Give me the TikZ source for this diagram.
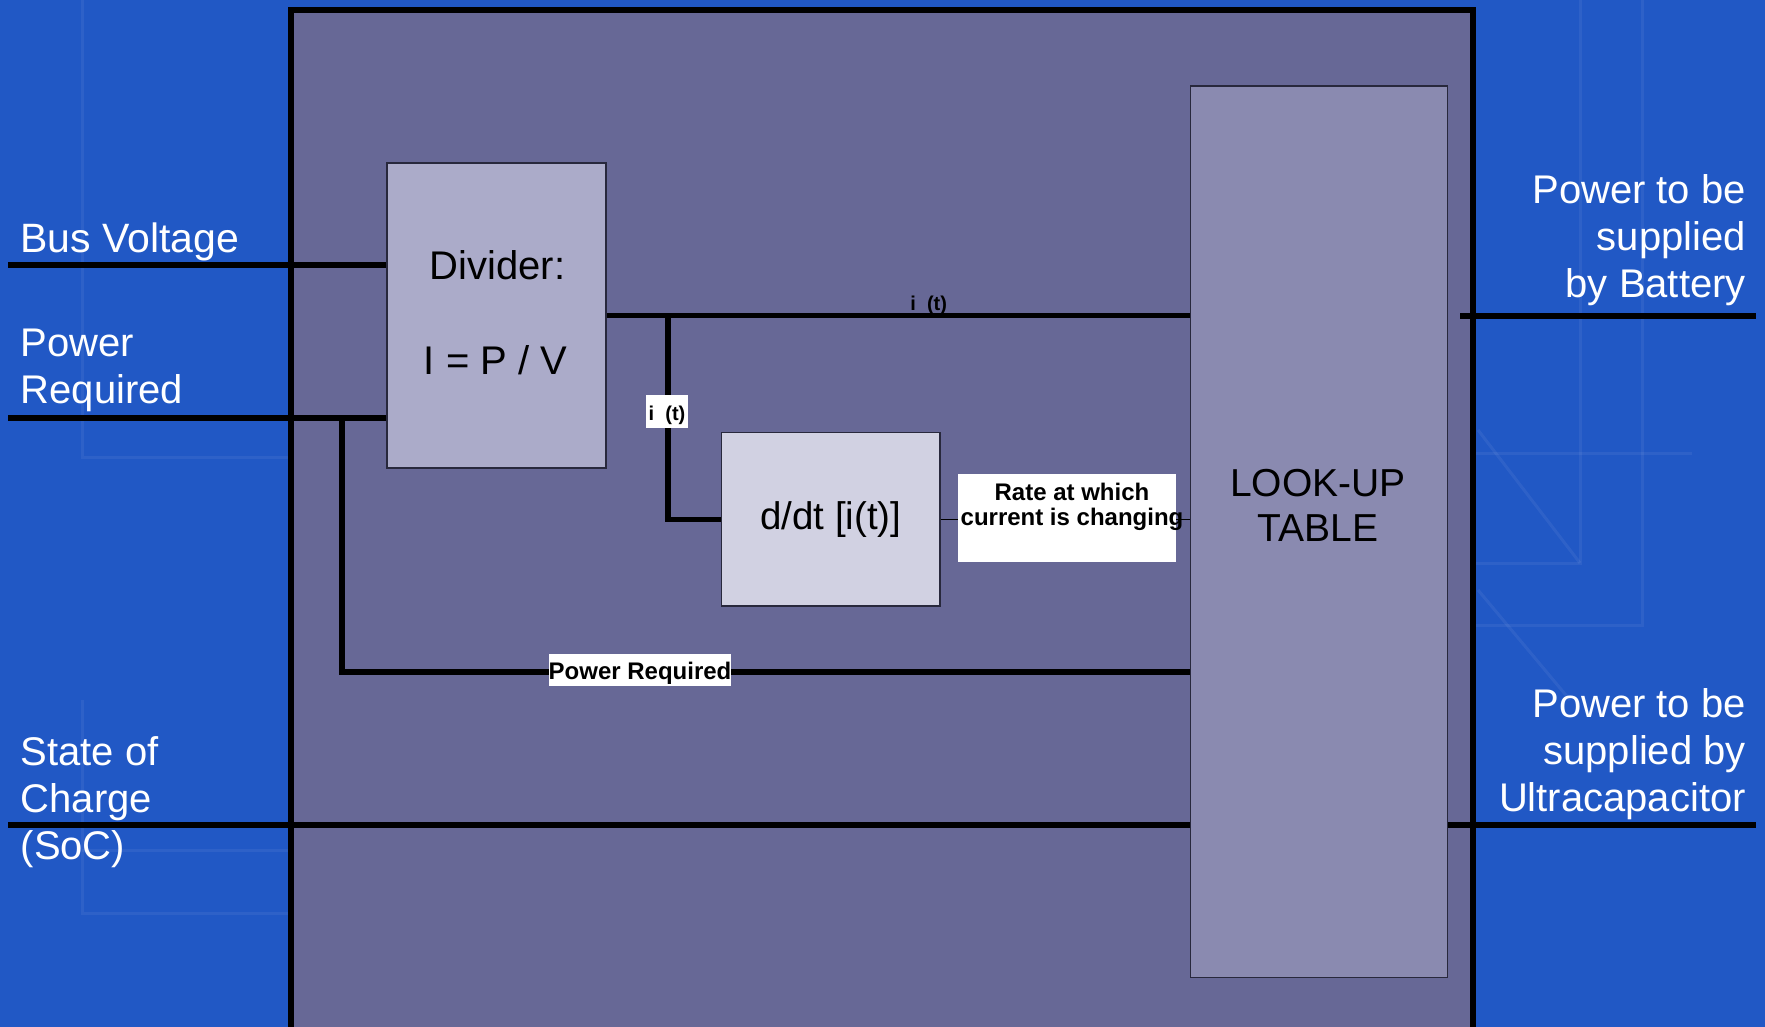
\documentclass[tikz,border=0pt]{standalone}
\usepackage{fontspec}
\setmainfont{Liberation Sans}
\definecolor{bgblue}{RGB}{33,88,197}
\definecolor{framefill}{RGB}{103,104,150}
\definecolor{divfill}{RGB}{171,171,201}
\definecolor{ddtfill}{RGB}{209,209,226}
\definecolor{lutfill}{RGB}{138,138,176}
\definecolor{boxedge}{RGB}{40,40,60}
\tikzset{
  wire/.style={line width=5.7pt, black},
  thinwire/.style={line width=1pt, black},
  framestroke/.style={line width=5.8pt, black, line join=miter},
  blockbox/.style={draw=boxedge, line width=1.5pt, inner sep=0pt},
  biglabel/.style={text=white, font=\fontsize{40}{47}\selectfont, inner sep=0pt},
  boxtext/.style={text=black, font=\fontsize{40}{47}\selectfont, inner sep=0pt},
  smalltag/.style={text=black, font=\bfseries\fontsize{20}{24}\selectfont, inner sep=0pt},
  bgpattern/.style={white, opacity=0.06, line width=3pt},
}
\begin{document}
\begin{tikzpicture}[x=1pt,y=-1pt]
\useasboundingbox (0,0) rectangle (1765,1027);
% background
\fill[bgblue] (0,0) rectangle (1765,1027);
% faint template pattern
\draw[bgpattern] (82,0) -- (82,457) -- (290,457);
\draw[bgpattern] (82,700) -- (82,913) -- (290,913);
\draw[bgpattern] (82,850) -- (290,850);
\draw[bgpattern] (1580,0) -- (1580,563) -- (1473,563);
\draw[bgpattern] (1473,453) -- (1692,453);
\draw[bgpattern] (1642,0) -- (1642,625) -- (1473,625);
\draw[bgpattern] (1478,430) -- (1580,563);
\draw[bgpattern] (1478,590) -- (1570,700);
% outer frame
\fill[framefill] (291,10) rectangle (1473,1040);
\draw[framestroke] (291,1040) -- (291,10) -- (1473,10) -- (1473,1040);
% blocks
\node[blockbox, fill=divfill, minimum width=219pt, minimum height=305pt] (divider) at (496.5,315.5) {};
\node[blockbox, fill=ddtfill, minimum width=218.5pt, minimum height=173.3pt,
      font=\fontsize{38.5}{44}\selectfont] (ddt) at (830.75,519.35) {d/dt [i(t)]};
\node[blockbox, fill=lutfill, minimum width=257.2pt, minimum height=891.9pt] (lut) at (1319,531.75) {};
% block texts
\node[boxtext, anchor=base] (divtitle) at (497.5,279.3) {Divider:};
\node[boxtext, anchor=base] (divformula) at (495.5,374) {I = P / V};
\node[boxtext, anchor=north, align=center, font=\fontsize{39}{44.3}\selectfont] (luttext) at (1318,469.5) {LOOK-UP\\TABLE};
% connection points
\coordinate (bvin) at (8,265);
\coordinate (prin) at (8,418);
\coordinate (prj) at (342,418);
\coordinate (prturn) at (342,672);
\coordinate (itj) at (668,315.5);
\coordinate (socin) at (8,825);
\coordinate (batin) at (1460,316);
\coordinate (batout) at (1756,316);
\coordinate (ucout) at (1756,825);
% wires
\draw[wire] (bvin) -- (bvin -| divider.west);
\draw[wire] (prin) -- (prin -| divider.west);
\draw[wire] (prj) -- (prturn) -- (prturn -| lut.west);
\draw[wire] (divider.east) -- (divider.east -| lut.west);
\draw[wire, line join=miter] (itj) |- (ddt.west);
\draw[thinwire] (ddt.east) -- (ddt.east -| lut.west);
\draw[wire] (socin) -- (socin -| lut.west);
\draw[wire] (batin) -- (batout);
\draw[wire] (lut.east |- ucout) -- (ucout);
% rate box
\node[fill=white, minimum width=218pt, minimum height=87.7pt, inner sep=0pt] (rate) at (1067,517.85) {};
\node[smalltag, anchor=north, align=center, font=\bfseries\fontsize{24}{25}\selectfont] (ratetext) at (1072,483.2) {Rate at which\\current is changing};
% tags on wires
\node[smalltag, anchor=base] (ittag) at (928.7,310) {i\ \ (t)};
\node[smalltag, fill=white, anchor=base, text height=25pt, text depth=8.3pt, inner xsep=2.5pt] (ittag2) at (667,420) {i\ \ (t)};
\node[smalltag, font=\bfseries\fontsize{24}{28}\selectfont, fill=white, anchor=base west, text height=25pt, text depth=7pt] (prtag) at (548.5,679) {Power Required};
% outside labels
\node[biglabel, anchor=base west, font=\fontsize{41}{47}\selectfont] (bvlab) at (20,252.3) {Bus Voltage};
\node[biglabel, anchor=north west, align=left] (prlab) at (20.5,328.7) {Power\\Required};
\node[biglabel, anchor=north west, align=left] (soclab) at (20.5,735.9) {State of\\Charge\\(SoC)};
\node[biglabel, anchor=north east, align=right] (batlab) at (1746,174.4) {Power to be\\supplied\\by Battery};
\node[biglabel, anchor=north east, align=right] (uclab) at (1746,688.4) {Power to be\\supplied by\\Ultracapacitor};
\end{tikzpicture}
\end{document}
